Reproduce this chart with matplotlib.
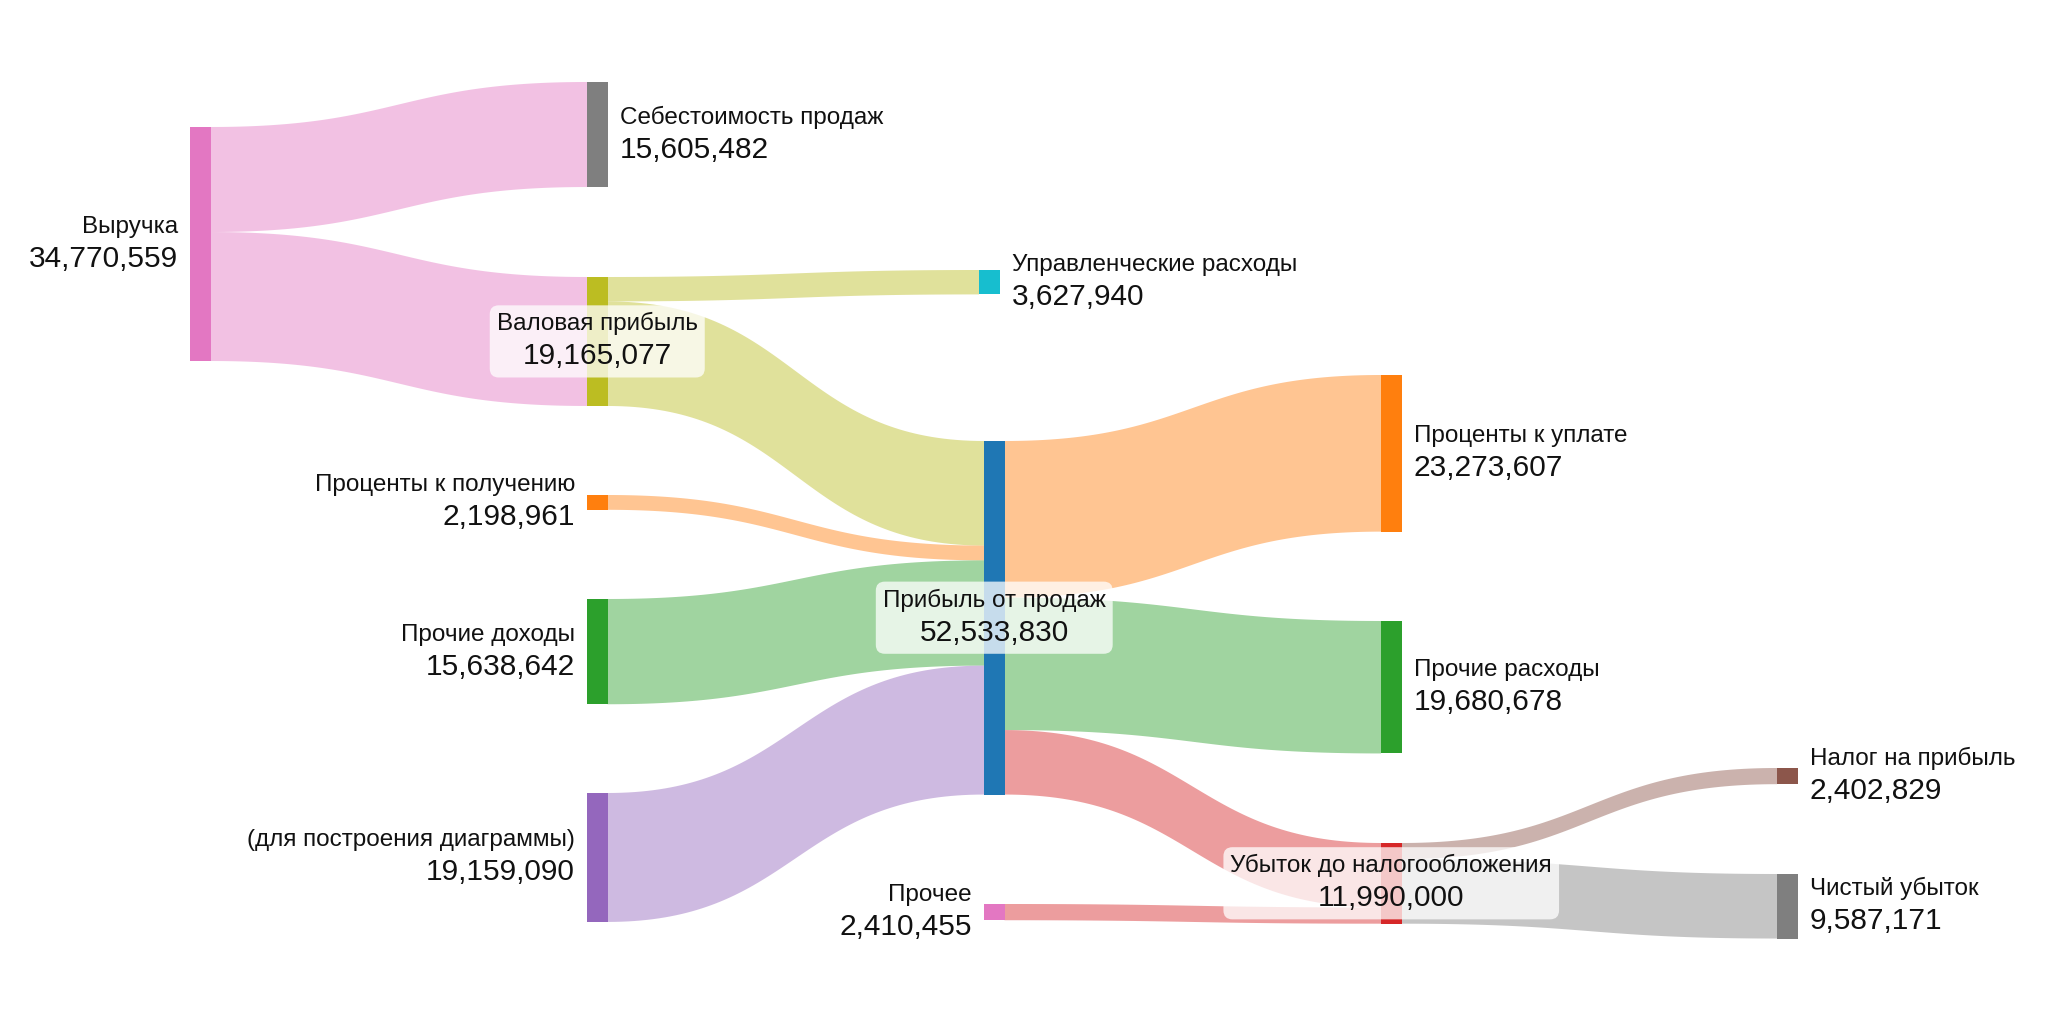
"""Sankey of the income statement (отчёт о финансовых результатах)."""
import matplotlib.pyplot as plt
import numpy as np
from matplotlib.patches import FancyBboxPatch, Polygon, Rectangle

plt.rcParams["font.family"] = ["Liberation Sans", "DejaVu Sans"]

# --- data -------------------------------------------------------------------
node_names = [
    "Выручка",
    "Себестоимость продаж",
    "Валовая прибыль",
    "Управленческие расходы",
    "Проценты к получению",
    "Прочие доходы",
    "(для построения диаграммы)",
    "Прибыль от продаж",
    "Прочее",
    "Проценты к уплате",
    "Прочие расходы",
    "Убыток до налогообложения",
    "Налог на прибыль",
    "Чистый убыток",
]
node_colors = [
    "#e377c2", "#7f7f7f", "#bcbd22", "#17becf", "#ff7f0e", "#2ca02c", "#9467bd",
    "#1f77b4", "#e377c2", "#ff7f0e", "#2ca02c", "#d62728", "#8c564b", "#7f7f7f",
]

link_source = [0, 0, 2, 2, 4, 5, 6, 7, 7, 7, 8, 11, 11]
link_target = [1, 2, 3, 7, 7, 7, 7, 9, 10, 11, 11, 12, 13]
link_value = [
    15605482, 19165077, 3627940, 15537137, 2198961, 15638642, 19159090,
    23273607, 19680678, 9579545, 2410455, 2402829, 9587171,
]
link_colors = [
    "#e377c2", "#e377c2", "#bcbd22", "#bcbd22", "#ff7f0e", "#2ca02c", "#9467bd",
    "#ff7f0e", "#2ca02c", "#d62728", "#d62728", "#8c564b", "#7f7f7f",
]

# --- layout (pixels) -----------------------------------------------------------
W, H = 2048, 1024
px_per_unit = 6.73e-6          # vertical pixels per rouble
col_x = [190, 587, 984, 1381, 1777]
node_w = 20.5
node_col = [0, 1, 1, 2, 1, 1, 1, 2, 2, 3, 3, 3, 4, 4]
node_dx = [0, 0, 0, -5, 0, 0, 0, 0, 0, 0, 0, 0, 0, 0]
node_top = [127, 82, 277, 270, 495, 599, 793, 441, 904, 375, 621, 843, 768, 874]
link_alpha = 0.45

n = len(node_names)
val_in = np.zeros(n)
val_out = np.zeros(n)
for s, t, v in zip(link_source, link_target, link_value):
    val_out[s] += v
    val_in[t] += v
node_value = np.maximum(val_in, val_out)
node_h = node_value * px_per_unit
node_x = [col_x[c] + d for c, d in zip(node_col, node_dx)]

fig = plt.figure(figsize=(W / 100, H / 100), dpi=100)
ax = fig.add_axes([0, 0, 1, 1])
ax.set_xlim(0, W)
ax.set_ylim(H, 0)
ax.axis("off")

# stacking offsets of links on both ends
out_off = {}
in_off = {}
for i in range(n):
    outs = sorted([k for k in range(len(link_value)) if link_source[k] == i],
                  key=lambda k: node_top[link_target[k]])
    y = node_top[i]
    for k in outs:
        out_off[k] = y
        y += link_value[k] * px_per_unit
    ins = sorted([k for k in range(len(link_value)) if link_target[k] == i],
                 key=lambda k: node_top[link_source[k]])
    y = node_top[i]
    for k in ins:
        in_off[k] = y
        y += link_value[k] * px_per_unit

t = np.linspace(0, 1, 80)
b0 = (1 - t) ** 3 + 3 * (1 - t) ** 2 * t
b1 = 1 - b0
for k, (s, tg, v) in enumerate(zip(link_source, link_target, link_value)):
    x0 = node_x[s] + node_w
    x1 = node_x[tg]
    xm = (x0 + x1) / 2
    xs = x0 * (1 - t) ** 3 + 3 * xm * (1 - t) ** 2 * t + 3 * xm * (1 - t) * t ** 2 + x1 * t ** 3
    h = v * px_per_unit
    top = out_off[k] * b0 + in_off[k] * b1
    bot = (out_off[k] + h) * b0 + (in_off[k] + h) * b1
    pts = np.vstack([np.column_stack([xs, top]), np.column_stack([xs[::-1], bot[::-1]])])
    ax.add_patch(Polygon(pts, closed=True, facecolor=link_colors[k], alpha=link_alpha,
                         edgecolor="none", zorder=1))

for i in range(n):
    ax.add_patch(Rectangle((node_x[i], node_top[i]), node_w, node_h[i],
                           facecolor=node_colors[i], edgecolor="none", zorder=2))

# labels
centered = []
for i in range(n):
    cy = node_top[i] + node_h[i] / 2
    if val_in[i] == 0:
        x, ha = node_x[i] - 12, "right"
    elif val_out[i] == 0:
        x, ha = node_x[i] + node_w + 12, "left"
    else:
        x, ha = node_x[i] + node_w / 2, "center"
    t1 = ax.text(x, cy - 11, node_names[i], ha=ha, va="baseline", fontsize=17.5,
                 color="#111111", zorder=4)
    t2 = ax.text(x, cy + 23, f"{node_value[i]:,.0f}", ha=ha, va="baseline", fontsize=21.5,
                 color="#111111", zorder=4)
    if ha == "center":
        centered.append((t1, t2))

fig.canvas.draw()
renderer = fig.canvas.get_renderer()
inv = ax.transData.inverted()
for t1, t2 in centered:
    e1 = t1.get_window_extent(renderer)
    e2 = t2.get_window_extent(renderer)
    xa = min(e1.x0, e2.x0)
    xb = max(e1.x1, e2.x1)
    ya = min(e1.y0, e2.y0)
    yb = max(e1.y1, e2.y1)
    (dx0, dy0), (dx1, dy1) = inv.transform([(xa, ya), (xb, yb)])
    y_lo, y_hi = min(dy0, dy1), max(dy0, dy1)
    ax.add_patch(FancyBboxPatch((dx0, y_lo), dx1 - dx0, y_hi - y_lo,
                                boxstyle="round,pad=7,rounding_size=9",
                                facecolor="white", alpha=0.75, edgecolor="none",
                                zorder=3))

fig.savefig("out.png", dpi=100)
